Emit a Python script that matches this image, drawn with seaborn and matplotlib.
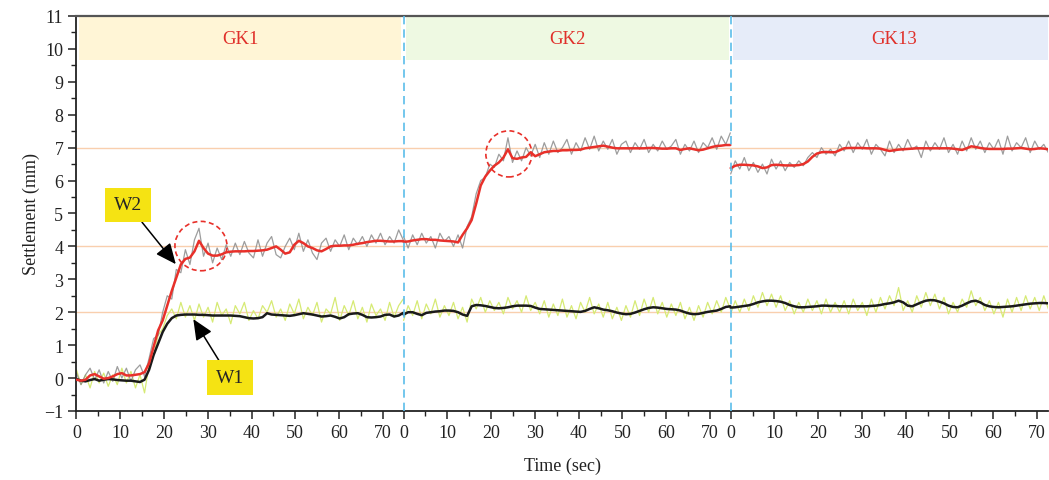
import numpy as np
import pandas as pd
import matplotlib
matplotlib.use("Agg")
import matplotlib.pyplot as plt
import seaborn as sns
from matplotlib.patches import Ellipse
from matplotlib.ticker import MultipleLocator, FixedLocator

# ---------------- data ----------------
segments = ["GK1", "GK2", "GK13"]
seg_len = 74.75          # seconds per test segment on the shared axis
sample_dt = 1.037        # spacing of the digitised samples (s)
tick_labels = ["0", "10", "20", "30", "40", "50", "60", "70"]

# W2 smoothed (red)
w2_smooth_gk1 = [-0.05, -0.08, -0.05, 0.08, 0.12, 0.05, -0.02, 0.0, 0.05, 0.12, 0.15, 0.08, 0.08, 0.10, 0.12, 0.18,
                 0.45, 0.95, 1.45, 1.75, 2.2, 2.65, 3.05, 3.45, 3.62, 3.66, 3.85, 4.17, 3.95, 3.78, 3.72, 3.72, 3.76,
                 3.82, 3.84, 3.85, 3.85, 3.85, 3.86, 3.86, 3.87, 3.88, 3.9, 3.95, 4.0, 3.9, 3.78, 3.82, 4.05, 4.17,
                 4.1, 4.0, 3.95, 3.88, 3.85, 3.92, 4.0, 4.02, 4.02, 4.03, 4.03, 4.05, 4.08, 4.1, 4.13, 4.15, 4.17,
                 4.17, 4.16, 4.15, 4.15, 4.16, 4.16]
w2_smooth_gk2 = [4.14, 4.15, 4.18, 4.2, 4.22, 4.22, 4.2, 4.2, 4.18, 4.17, 4.16, 4.15, 4.12, 4.35, 4.55, 4.8, 5.3,
                 5.85, 6.12, 6.3, 6.45, 6.55, 6.7, 6.95, 6.68, 6.66, 6.7, 6.72, 6.86, 6.74, 6.8, 6.86, 6.88, 6.9,
                 6.9, 6.92, 6.92, 6.93, 6.93, 6.94, 6.98, 7.0, 7.02, 7.04, 7.06, 7.03, 7.0, 6.98, 6.98, 6.98, 6.98,
                 6.98, 6.98, 6.98, 6.99, 6.99, 6.98, 6.97, 6.97, 6.98, 6.98, 6.93, 6.96, 6.98, 6.95, 6.92, 6.94,
                 6.98, 7.02, 7.05, 7.06, 7.08, 7.08]
w2_smooth_gk13 = [6.38, 6.45, 6.48, 6.48, 6.47, 6.46, 6.43, 6.38, 6.4, 6.47, 6.48, 6.47, 6.46, 6.46, 6.46, 6.47,
                  6.5, 6.58, 6.72, 6.82, 6.86, 6.87, 6.86, 6.86, 6.92, 6.98, 6.99, 6.99, 6.99, 6.99, 6.98, 6.98,
                  6.98, 6.97, 6.93, 6.9, 6.92, 6.94, 6.95, 6.96, 6.97, 6.98, 6.98, 6.98, 6.98, 6.98, 6.98, 6.98,
                  6.98, 6.97, 6.95, 6.93, 6.98, 7.04, 7.02, 6.99, 6.97, 6.96, 6.96, 6.96, 6.96, 6.97, 6.97, 6.98,
                  6.99, 6.97, 6.95, 6.96, 6.98, 6.97, 6.95, 6.96]

# W1 smoothed (black)
w1_smooth_gk1 = [-0.03, -0.08, -0.1, -0.06, -0.03, -0.08, -0.05, -0.03, -0.04, -0.06, -0.07, -0.08, -0.08, -0.1,
                 -0.12, -0.05, 0.25, 0.7, 1.05, 1.4, 1.65, 1.82, 1.9, 1.92, 1.93, 1.93, 1.93, 1.92, 1.92, 1.91, 1.9,
                 1.9, 1.9, 1.9, 1.9, 1.89, 1.88, 1.85, 1.82, 1.81, 1.82, 1.85, 1.97, 1.93, 1.92, 1.91, 1.9, 1.89,
                 1.91, 1.94, 1.97, 1.95, 1.93, 1.9, 1.87, 1.88, 1.9, 1.86, 1.81, 1.85, 1.94, 1.96, 1.97, 1.92, 1.85,
                 1.84, 1.85, 1.87, 1.92, 1.93, 1.87, 1.9, 1.98]
w1_smooth_gk2 = [1.93, 2.0, 2.0, 1.95, 1.91, 1.98, 2.0, 2.02, 2.03, 2.05, 2.05, 2.04, 2.0, 1.93, 1.89, 2.18, 2.22,
                 2.21, 2.19, 2.16, 2.13, 2.12, 2.13, 2.15, 2.18, 2.2, 2.2, 2.2, 2.19, 2.14, 2.1, 2.09, 2.08, 2.07,
                 2.06, 2.05, 2.04, 2.03, 2.02, 2.01, 2.04, 2.1, 2.15, 2.12, 2.08, 2.06, 2.03, 1.99, 1.96, 1.94, 1.95,
                 1.99, 2.04, 2.09, 2.13, 2.15, 2.14, 2.12, 2.1, 2.09, 2.08, 2.05, 2.0, 1.96, 1.94, 1.95, 1.98, 2.01,
                 2.03, 2.05, 2.1, 2.16, 2.18]
w1_smooth_gk13 = [2.14, 2.15, 2.17, 2.19, 2.21, 2.25, 2.3, 2.33, 2.35, 2.35, 2.34, 2.32, 2.28, 2.22, 2.18, 2.15,
                  2.15, 2.16, 2.17, 2.18, 2.2, 2.2, 2.19, 2.19, 2.18, 2.18, 2.18, 2.18, 2.18, 2.18, 2.18, 2.19, 2.2,
                  2.22, 2.25, 2.27, 2.3, 2.35, 2.3, 2.2, 2.18, 2.24, 2.3, 2.35, 2.37, 2.36, 2.32, 2.27, 2.2, 2.16,
                  2.15, 2.2, 2.27, 2.33, 2.35, 2.3, 2.22, 2.18, 2.16, 2.15, 2.16, 2.17, 2.18, 2.2, 2.22, 2.24, 2.26,
                  2.27, 2.28, 2.28, 2.27, 2.27]

# W2 raw (grey)
w2_raw_gk1 = [0.15, -0.2, 0.1, 0.3, -0.05, 0.25, -0.15, 0.2, -0.1, 0.35, 0.0, 0.3, -0.1, 0.25, 0.4, 0.05, 0.6, 1.2,
              1.3, 2.0, 2.5, 2.4, 3.3, 3.2, 3.9, 3.45, 4.2, 4.55, 3.7, 4.1, 3.5, 3.95, 3.6, 4.05, 3.7, 4.1, 3.75,
              4.15, 3.8, 3.65, 4.2, 3.7, 4.1, 4.3, 3.75, 3.65, 4.0, 4.25, 3.9, 4.4, 3.85, 4.2, 3.8, 3.6, 4.1, 4.25,
              3.85, 4.2, 4.0, 4.35, 3.9, 4.25, 4.05, 4.3, 4.0, 4.35, 4.1, 4.4, 4.05, 4.3, 4.1, 4.5, 4.2]
w2_raw_gk2 = [4.3, 3.95, 4.35, 4.05, 4.4, 4.1, 4.3, 3.95, 4.4, 4.15, 4.3, 4.0, 4.35, 3.95, 4.6, 4.9, 5.6, 6.0, 6.1,
              6.5, 6.4, 6.8, 6.6, 7.3, 6.55, 6.9, 6.6, 7.0, 6.75, 7.1, 6.7, 7.15, 6.8, 7.2, 6.85, 7.0, 7.25, 6.8,
              7.15, 6.9, 7.3, 6.95, 7.35, 6.9, 7.2, 6.95, 7.25, 6.8, 7.1, 7.2, 6.85, 7.15, 6.95, 7.25, 6.85, 7.1,
              6.9, 7.2, 6.95, 7.05, 7.25, 6.8, 7.1, 6.9, 7.2, 6.85, 7.15, 7.0, 7.3, 6.95, 7.35, 7.1, 7.45]
w2_raw_gk13 = [6.2, 6.6, 6.35, 6.7, 6.3, 6.55, 6.25, 6.5, 6.2, 6.65, 6.35, 6.6, 6.3, 6.55, 6.4, 6.6, 6.45, 6.7,
               6.85, 6.7, 7.0, 6.8, 6.95, 6.75, 7.1, 6.9, 7.2, 6.85, 7.15, 6.95, 7.25, 6.8, 7.1, 6.95, 6.75, 7.2,
               6.85, 7.1, 6.9, 7.25, 6.95, 7.05, 6.7, 7.2, 6.9, 7.15, 6.95, 7.3, 6.85, 7.1, 6.8, 7.2, 6.9, 7.3,
               6.95, 7.2, 6.85, 7.15, 6.95, 7.25, 6.8, 7.35, 6.9, 7.15, 7.0, 7.3, 6.85, 7.2, 6.95, 7.1, 6.85, 7.05]

# W1 raw (yellow-green)
w1_raw_gk1 = [0.25, -0.2, 0.1, -0.3, 0.2, -0.15, 0.15, -0.25, 0.1, -0.2, 0.3, -0.15, 0.2, -0.3, 0.1, -0.45, 0.4,
              0.7, 1.3, 1.5, 1.9, 2.1, 1.8, 2.3, 1.85, 2.2, 1.75, 2.25, 1.85, 2.15, 1.7, 2.3, 1.9, 2.1, 1.65, 2.2,
              1.95, 2.3, 1.75, 2.05, 1.8, 2.2, 2.0, 2.35, 1.85, 2.1, 1.75, 2.25, 1.95, 2.4, 1.8, 2.15, 1.9, 2.3,
              1.7, 2.1, 1.95, 2.45, 1.75, 2.2, 1.9, 2.35, 1.8, 2.15, 1.7, 2.25, 1.9, 2.1, 1.75, 2.3, 1.85, 2.2, 2.4]
w1_raw_gk2 = [1.75, 2.2, 1.9, 2.35, 1.8, 2.25, 1.95, 2.4, 1.85, 2.2, 1.9, 2.3, 1.8, 2.15, 1.7, 2.4, 2.1, 2.45, 2.0,
              2.35, 2.05, 2.3, 1.95, 2.45, 2.1, 2.35, 2.0, 2.5, 2.05, 2.3, 1.95, 2.35, 1.85, 2.25, 1.9, 2.4, 1.85,
              2.2, 1.8, 2.3, 2.0, 2.45, 1.95, 2.25, 1.85, 2.3, 1.8, 2.15, 1.75, 2.2, 1.85, 2.35, 1.9, 2.4, 2.0,
              2.45, 1.95, 2.3, 1.85, 2.25, 1.9, 2.3, 1.8, 2.15, 1.75, 2.2, 1.85, 2.3, 1.95, 2.35, 2.0, 2.45, 2.1]
w1_raw_gk13 = [1.95, 2.35, 2.0, 2.4, 2.05, 2.5, 2.15, 2.6, 2.2, 2.55, 2.15, 2.5, 2.05, 2.35, 1.95, 2.3, 2.0, 2.4,
               2.05, 2.35, 1.95, 2.4, 2.0, 2.3, 2.0, 2.35, 1.95, 2.4, 2.05, 2.3, 1.9, 2.4, 2.0, 2.45, 2.1, 2.5, 2.2,
               2.75, 2.05, 2.35, 2.0, 2.5, 2.15, 2.6, 2.2, 2.55, 2.1, 2.45, 1.95, 2.3, 2.0, 2.4, 2.15, 2.65, 2.2,
               2.45, 2.05, 2.35, 1.95, 2.3, 1.85, 2.4, 2.0, 2.45, 2.05, 2.5, 2.1, 2.45, 2.05, 2.5, 2.1, 2.4]

w2_smooth = [w2_smooth_gk1, w2_smooth_gk2, w2_smooth_gk13]
w1_smooth = [w1_smooth_gk1, w1_smooth_gk2, w1_smooth_gk13]
w2_raw = [w2_raw_gk1, w2_raw_gk2, w2_raw_gk13]
w1_raw = [w1_raw_gk1, w1_raw_gk2, w1_raw_gk13]
ref_levels = [2, 4, 7]

# ---------------- plot ----------------
sns.set_theme(style="white")
plt.rcParams['font.family'] = ['Liberation Serif', 'DejaVu Serif']

fig = plt.figure(figsize=(10.49, 4.81), dpi=100)
ax = fig.add_axes([0.0729, 0.1435, 0.9261, 0.8212])
XMAX = 222.0
ax.set_xlim(0, XMAX)
ax.set_ylim(-1, 11)

band_colors = ["#FFF5D6", "#EEF9E2", "#E6ECF9"]
for i, name in enumerate(segments):
    x0 = i * seg_len
    x1 = min(x0 + seg_len, XMAX + 1)
    ax.axvspan(x0 + 0.5, x1 - 0.5, ymin=(9.65 + 1) / 12, ymax=1.0,
               color=band_colors[i], lw=0, zorder=0)
    ax.text(x0 + seg_len / 2, 10.32, name, color="#E0302A", fontsize=13.5,
            ha="center", va="center", zorder=1)

for lvl in ref_levels:
    ax.axhline(lvl, color="#F9CFAE", lw=1.0, zorder=1)

def seg_df(vals, i):
    t = np.arange(len(vals)) * sample_dt + i * seg_len
    return pd.DataFrame({"t": t, "v": vals})

for i in range(3):
    sns.lineplot(data=seg_df(w1_raw[i], i), x="t", y="v", ax=ax, color="#D6EA74",
                 lw=0.9, estimator=None, zorder=2)
    sns.lineplot(data=seg_df(w2_raw[i], i), x="t", y="v", ax=ax, color="#8C8C8C",
                 lw=0.9, alpha=0.85, estimator=None, zorder=2)
for i in range(3):
    sns.lineplot(data=seg_df(w1_smooth[i], i), x="t", y="v", ax=ax, color="#1A1A1A",
                 lw=1.8, estimator=None, zorder=3)
    sns.lineplot(data=seg_df(w2_smooth[i], i), x="t", y="v", ax=ax, color="#E8302A",
                 lw=1.8, estimator=None, zorder=4)

for b in [seg_len, 2 * seg_len]:
    ax.axvline(b, color="#5BBDEA", lw=1.2, ls=(0, (5, 3)), zorder=5)

# dashed circles
for (cx, cy, w, h) in [(28.45, 4.01, 11.9, 1.5), (98.8, 6.81, 10.5, 1.4)]:
    ax.add_patch(Ellipse((cx, cy), w, h, fill=False, ec="#E8302A", lw=1.2,
                         ls=(0, (3, 2)), zorder=6))

# labels with arrows
box = dict(boxstyle="square,pad=0.45", fc="#F5E313", ec="none")
arrow = dict(arrowstyle="-|>,head_length=0.9,head_width=0.4", color="black", lw=1.1,
             shrinkA=0, shrinkB=0)
ax.annotate("W2", xy=(22.7, 3.46), xytext=(11.8, 5.26), fontsize=14, ha="center", va="center",
            bbox=box, arrowprops=arrow, zorder=7)
ax.annotate("W1", xy=(26.7, 1.79), xytext=(35.0, 0.01), fontsize=14, ha="center", va="center",
            bbox=box, arrowprops=arrow, zorder=7)

# ticks
major, labels = [], []
for i in range(3):
    for k, lab in enumerate(tick_labels):
        major.append(i * seg_len + 10 * k)
        labels.append(lab)
minor = [i * seg_len + 5 * k for i in range(3) for k in range(15) if i * seg_len + 5 * k <= XMAX]
ax.xaxis.set_major_locator(FixedLocator(major))
ax.set_xticklabels(labels)
ax.xaxis.set_minor_locator(FixedLocator(minor))
ax.yaxis.set_major_locator(MultipleLocator(1))
ax.yaxis.set_minor_locator(MultipleLocator(0.5))
ax.set_yticklabels([f"{int(v)}" if v >= 0 else f"\u2212{int(-v)}" for v in ax.get_yticks()])
ax.tick_params(axis="both", which="major", direction="out", length=6, width=1.1,
               color="#222222", labelsize=13, labelcolor="#222222", bottom=True, left=True)
ax.tick_params(axis="both", which="minor", direction="out", length=3.5, width=1.0,
               color="#222222", bottom=True, left=True)

for s in ["left", "bottom"]:
    ax.spines[s].set_color("#222222")
    ax.spines[s].set_linewidth(1.3)
ax.spines["top"].set_color("#555555")
ax.spines["top"].set_linewidth(1.6)
ax.spines["right"].set_visible(False)

ax.set_xlabel("Time (sec)", fontsize=13, color="#222222", labelpad=11)
ax.set_ylabel("Settlement (mm)", fontsize=13, color="#222222", labelpad=3)

fig.savefig("out.png", dpi=100)
